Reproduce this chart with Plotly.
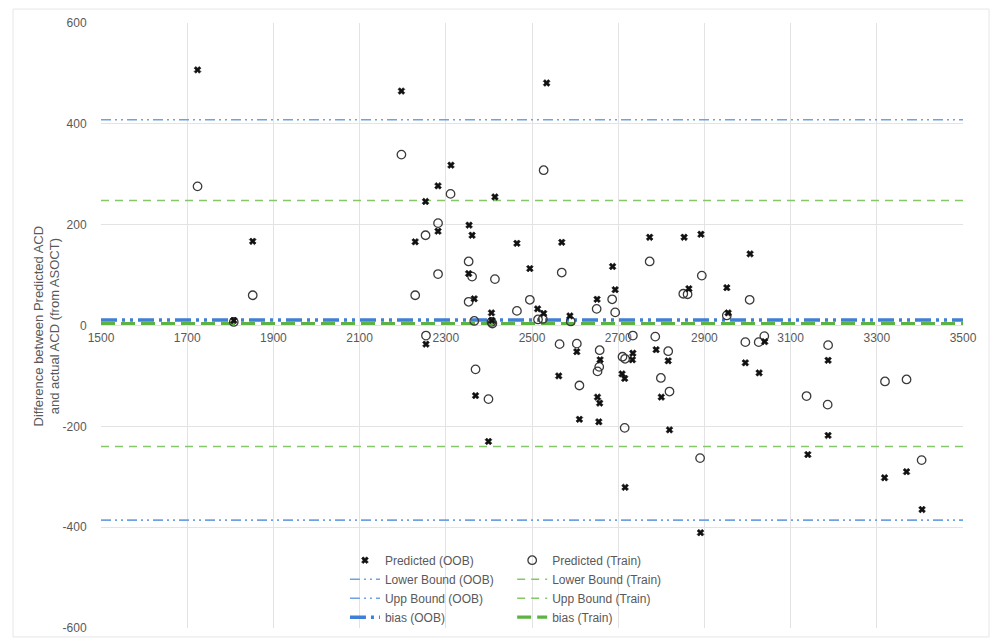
import plotly.graph_objects as go

# ---- data ----
oob_x = [1724, 1808, 1852, 2197, 2229, 2253, 2254, 2282, 2282, 2312, 2354, 2361, 2353, 2366,
         2369, 2399, 2406, 2407, 2414, 2465, 2495, 2513, 2527, 2534, 2562, 2569, 2588, 2604,
         2610, 2651, 2658, 2652, 2657, 2655, 2687, 2693, 2709, 2715, 2716, 2734, 2733, 2773,
         2788, 2800, 2816, 2819, 2853, 2864, 2892, 2891, 2952, 2955, 2995, 3006, 3027, 3040,
         3140, 3187, 3187, 3318, 3369, 3405]
oob_y = [507, 10, 167, 465, 166, 246, -37, 277, 187, 318, 199, 179, 103, 53,
         -139, -230, 25, 10, 255, 163, 113, 33, 24, 481, -100, 165, 19, -52,
         -186, 52, -68, -142, -154, -191, 117, 71, -96, -105, -321, -55, -68, 175,
         -48, -142, -70, -207, 175, 73, 181, -411, 75, 25, -74, 142, -94, -32,
         -256, -69, -218, -302, -290, -365]

train_x = [1724, 1808, 1852, 2197, 2229, 2253, 2254, 2282, 2282, 2311, 2353, 2353, 2361, 2366,
           2369, 2399, 2406, 2408, 2414, 2465, 2495, 2514, 2525, 2527, 2564, 2569, 2590, 2604,
           2610, 2650, 2657, 2656, 2652, 2686, 2693, 2710, 2716, 2715, 2734, 2773, 2786, 2799,
           2816, 2819, 2851, 2861, 2894, 2890, 2952, 2995, 3005, 3026, 3039, 3137, 3187, 3186,
           3319, 3369, 3404]
train_y = [276, 7, 60, 339, 60, 179, -20, 203, 102, 261, 127, 47, 97, 9,
           -87, -146, 7, 4, 92, 29, 51, 12, 13, 308, -37, 105, 8, -36,
           -119, 33, -49, -82, -91, 52, 26, -62, -66, -203, -20, 127, -22, -104,
           -51, -131, 63, 62, 99, -263, 20, -33, 51, -33, -21, -140, -39, -157,
           -111, -107, -267]

x_span = [1500, 3500]
oob_lower, oob_upper, oob_bias = -386, 408, 11
train_lower, train_upper, train_bias = -240, 248, 4

x_ticks = [1500, 1700, 1900, 2100, 2300, 2500, 2700, 2900, 3100, 3300, 3500]
y_ticks = [-600, -400, -200, 0, 200, 400, 600]
y_tick_text = ["-600", "-400", "-200", "0", "200", "400", "600"]

BLUE_L = "#6fa2e2"
BLUE_D = "#3f7fd6"
GREEN_L = "#84c86a"
GREEN_D = "#5cb344"
TXT = "#595959"

fig = go.Figure()

def hline(val, name, color, width, dash, legend):
    fig.add_trace(go.Scatter(x=x_span, y=[val, val], mode="lines", name=name,
                             line=dict(color=color, width=width, dash=dash),
                             legend=legend, hoverinfo="skip"))

hline(oob_lower, "Lower Bound (OOB)", BLUE_L, 1.6, "10px,4px,2px,4px,2px,4px", "legend")
hline(oob_upper, "Upp Bound (OOB)", BLUE_L, 1.6, "10px,4px,2px,4px,2px,4px", "legend")
hline(oob_bias, "bias (OOB)", BLUE_D, 3.5, "16px,5px,3px,5px,3px,5px", "legend")
hline(train_lower, "Lower Bound (Train)", GREEN_L, 1.6, "8px,6px", "legend2")
hline(train_upper, "Upp Bound (Train)", GREEN_L, 1.6, "8px,6px", "legend2")
hline(train_bias, "bias (Train)", GREEN_D, 3.2, "14px,6px", "legend2")

fig.add_trace(go.Scatter(x=train_x, y=train_y, mode="markers", name="Predicted (Train)",
                         marker=dict(symbol="circle-open", size=8.5, color="#3a3a3a",
                                     line=dict(width=1.3, color="#3a3a3a")),
                         legend="legend2", legendrank=1))
fig.add_trace(go.Scatter(x=oob_x, y=oob_y, mode="markers", name="Predicted (OOB)",
                         marker=dict(symbol="x", size=6, color="#111111",
                                     line=dict(width=0.6, color="#111111")),
                         legend="legend", legendrank=1))

for i, tr in enumerate(fig.data):
    if tr.legendrank is None or tr.legendrank == 1000:
        tr.legendrank = 10 + i

grid = "#e3e3e3"
fig.update_layout(
    width=994, height=644,
    margin=dict(l=101, r=31, t=23, b=13),
    paper_bgcolor="white", plot_bgcolor="white",
    font=dict(family="Liberation Sans, Arial, sans-serif", size=12, color=TXT),
    xaxis=dict(range=[1500, 3500], tickvals=x_ticks, showgrid=True, gridcolor=grid,
               gridwidth=1, zeroline=False, showline=False, anchor="free", position=0.5,
               ticks="outside", ticklen=1, tickcolor="rgba(0,0,0,0)",
               tickfont=dict(size=12, color=TXT), automargin=False),
    yaxis=dict(range=[-600, 600], tickvals=y_ticks, ticktext=y_tick_text, showgrid=True,
               gridcolor=grid, gridwidth=1, zeroline=True, zerolinecolor=grid,
               zerolinewidth=1, showline=False, ticks="outside", ticklen=11,
               tickcolor="rgba(0,0,0,0)", tickfont=dict(size=12, color=TXT),
               automargin=False),
    legend=dict(x=0.283, y=0.136, xanchor="left", yanchor="top", orientation="v",
                bgcolor="rgba(0,0,0,0)", font=dict(size=12, color=TXT), tracegroupgap=0,
                traceorder="normal"),
    legend2=dict(x=0.477, y=0.136, xanchor="left", yanchor="top", orientation="v",
                 bgcolor="rgba(0,0,0,0)", font=dict(size=12, color=TXT), tracegroupgap=0,
                 traceorder="normal"),
    showlegend=True,
    annotations=[dict(text="Difference between Predicted ACD<br>and actual ACD (from ASOCT)",
                      xref="paper", yref="paper", x=(46 - 101) / 862, y=0.5,
                      xanchor="center", yanchor="middle", textangle=-90, showarrow=False,
                      font=dict(size=13, color=TXT))],
    shapes=[dict(type="rect", xref="paper", yref="paper",
                 x0=(13 - 101) / 862, x1=(989 - 101) / 862,
                 y0=(631 - 640) / 608, y1=(631 - 9) / 608,
                 line=dict(color="#e6e6e6", width=1), layer="below")],
)

fig.write_html("out.html", config={"displayModeBar": False},
               post_script="document.body.style.margin='0';document.body.style.overflow='hidden';")
